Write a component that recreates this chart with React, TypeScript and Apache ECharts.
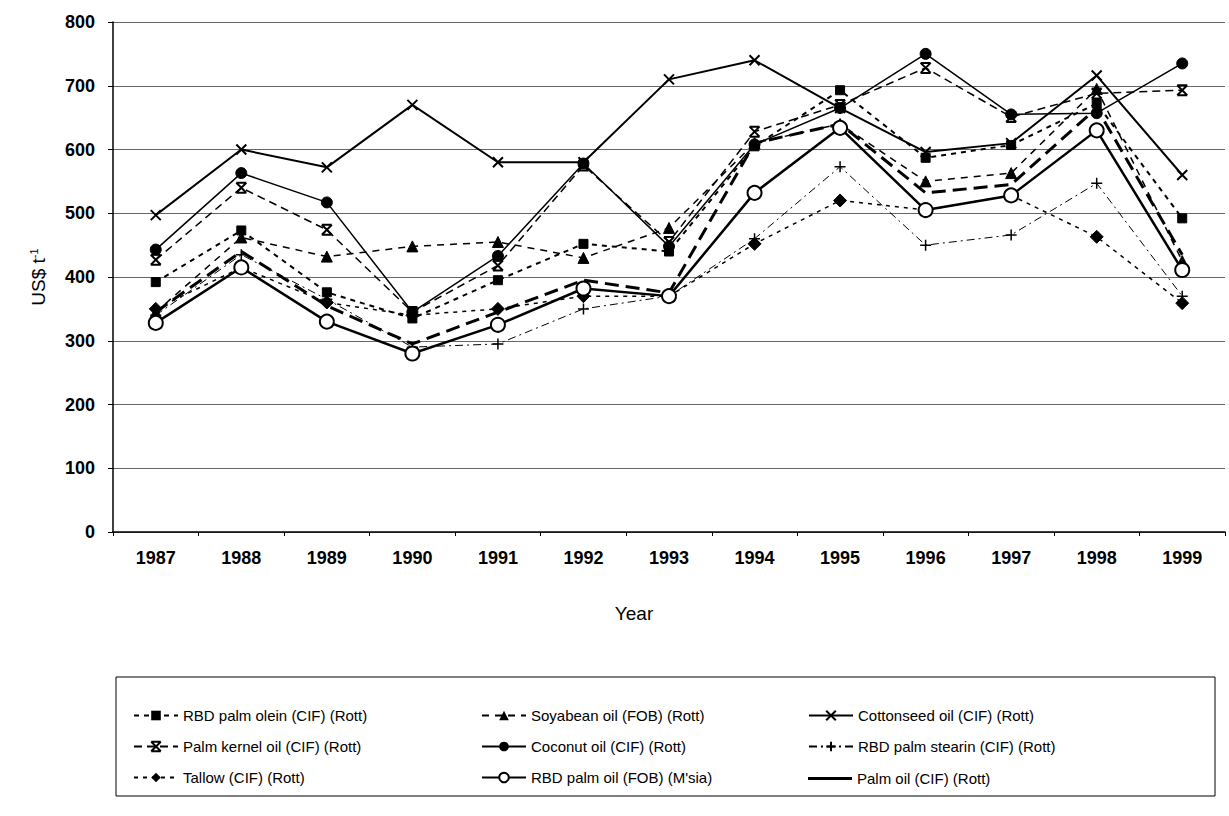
import React, { useEffect, useRef } from "react";
import * as echarts from "echarts";

const years = ["1987", "1988", "1989", "1990", "1991", "1992", "1993", "1994", "1995", "1996", "1997", "1998", "1999"];
const yTicks = [0, 100, 200, 300, 400, 500, 600, 700, 800];

const rbdPalmOlein = [392, 473, 376, 335, 395, 452, 440, 605, 693, 587, 607, 672, 492];
const soyabeanOil = [345, 462, 432, 448, 455, 430, 477, 610, 640, 550, 563, 695, 425];
const cottonseedOil = [497, 600, 572, 670, 580, 580, 710, 740, 665, 596, 610, 716, 560];
const palmKernelOil = [427, 540, 474, 345, 418, 575, 455, 628, 670, 728, 651, 688, 693];
const coconutOil = [443, 563, 517, 345, 433, 578, 448, 608, 665, 750, 655, 657, 735];
const rbdPalmStearin = [340, 435, 365, 290, 295, 350, 370, 460, 573, 450, 466, 547, 370];
const tallow = [350, 415, 360, 340, 350, 370, 370, 452, 520, 505, 528, 463, 359];
const rbdPalmOilMsia = [328, 415, 330, 280, 325, 382, 370, 532, 634, 505, 528, 630, 411];
const palmOilCif = [345, 440, 355, 295, 345, 395, 375, 610, 640, 532, 545, 665, 435];

const names = {
  olein: "RBD palm olein (CIF) (Rott)",
  soy: "Soyabean oil (FOB) (Rott)",
  cotton: "Cottonseed oil (CIF) (Rott)",
  kernel: "Palm kernel oil (CIF) (Rott)",
  coconut: "Coconut oil (CIF) (Rott)",
  stearin: "RBD palm stearin (CIF) (Rott)",
  tallow: "Tallow (CIF) (Rott)",
  rbdOil: "RBD palm oil (FOB) (M'sia)",
  palmOil: "Palm oil (CIF) (Rott)",
};

const crossPath = "path://M0,0L10,10M10,0L0,10";
const asteriskPath = "path://M0,0L10,10M10,0L0,10M0,0L10,0M0,10L10,10";
const plusPath = "path://M5,0L5,10M0,5L10,5";

export default function App() {
  const ref = useRef<HTMLDivElement>(null);
  useEffect(() => {
    if (!ref.current) return;
    const chart = echarts.init(ref.current, null, { renderer: "svg" });
    const font = "'Liberation Sans', Arial, sans-serif";
    const narrow = "'Liberation Sans Narrow', 'Liberation Sans', Arial, sans-serif";
    const mk = (name: string, data: number[], line: any, symbol: string, size: number, item: any = {}) => ({
      name,
      type: "line",
      data,
      symbol,
      symbolSize: size,
      showSymbol: symbol !== "none",
      lineStyle: { color: "#000", ...line },
      itemStyle: { color: "#000", borderColor: "#000", ...item },
      emphasis: { disabled: true },
      z: 3,
    });
    const legendBase = {
      orient: "vertical" as const,
      top: 703,
      itemWidth: 44,
      itemHeight: 12,
      itemGap: 16,
      textStyle: { fontFamily: font, fontSize: 15, color: "#000" },
      selectedMode: false,
    };
    chart.setOption({
      animation: false,
      backgroundColor: "#fff",
      grid: { left: 113, right: 4, top: 22, bottom: 284 },
      legend: [
        { ...legendBase, left: 128, data: [names.olein, names.kernel, names.tallow] },
        { ...legendBase, left: 476, data: [names.soy, names.coconut, names.rbdOil] },
        { ...legendBase, left: 803, data: [names.cotton, names.stearin] },
        {
          ...legendBase,
          left: 803,
          top: 766,
          itemHeight: 3,
          data: [{ name: names.palmOil, icon: "rect", itemStyle: { color: "#000" } }],
        },
      ],
      graphic: [
        { type: "rect", shape: { x: 116, y: 677, width: 1099, height: 119 }, style: { fill: "none", stroke: "#000", lineWidth: 1 }, silent: true },
      ],
      xAxis: {
        type: "category",
        data: years,
        boundaryGap: true,
        name: "Year",
        nameLocation: "middle",
        nameGap: 72,
        nameTextStyle: { fontFamily: font, fontSize: 19, color: "#000", padding: [0, 70, 0, 0] },
        axisLine: { lineStyle: { color: "#000", width: 1.5 } },
        axisTick: { show: true, length: 4, lineStyle: { color: "#000" } },
        axisLabel: { fontFamily: narrow, fontWeight: "bold", fontSize: 18, color: "#000", margin: 17 },
        splitLine: { show: false },
      },
      yAxis: {
        type: "value",
        min: 0,
        max: 800,
        interval: 100,
        name: "{a|US$ t}{b|-1}",
        nameLocation: "middle",
        nameGap: 64,
        nameRotate: 90,
        nameTextStyle: {
          rich: {
            a: { fontFamily: font, fontSize: 19, color: "#000" },
            b: { fontFamily: font, fontSize: 11, color: "#000", padding: [0, 0, 10, 0] },
          },
        },
        axisLine: { show: true, lineStyle: { color: "#000", width: 1.5 } },
        axisTick: { show: true, length: 5, lineStyle: { color: "#000" } },
        axisLabel: {
          fontFamily: narrow,
          fontWeight: "bold",
          fontSize: 18,
          color: "#000",
          margin: 18,
          formatter: (v: number) => (yTicks.includes(v) ? String(v) : ""),
        },
        splitLine: { show: true, lineStyle: { color: "#666", width: 1 } },
      },
      series: [
        mk(names.olein, rbdPalmOlein, { width: 2, type: [5, 5] }, "rect", 9),
        mk(names.soy, soyabeanOil, { width: 1.5, type: [7, 6] }, "triangle", 11),
        mk(names.cotton, cottonseedOil, { width: 2 }, crossPath, 10, { color: "none", borderWidth: 2 }),
        mk(names.kernel, palmKernelOil, { width: 1.5, type: [8, 5] }, asteriskPath, 10, { color: "none", borderWidth: 2 }),
        mk(names.coconut, coconutOil, { width: 1.5 }, "circle", 11),
        mk(names.stearin, rbdPalmStearin, { width: 1, type: [8, 4, 2, 4] }, plusPath, 11, { color: "none", borderWidth: 1.5 }),
        mk(names.tallow, tallow, { width: 1.5, type: [4, 5] }, "diamond", 13),
        mk(names.rbdOil, rbdPalmOilMsia, { width: 2.5 }, "emptyCircle", 14, { color: "#000", borderWidth: 1.5 }),
        mk(names.palmOil, palmOilCif, { width: 3, type: [14, 7] }, "none", 0),
      ],
    });
    return () => chart.dispose();
  }, []);
  return <div ref={ref} style={{ position: "fixed", left: 0, top: 0, width: 1229, height: 816, background: "#fff" }} />;
}
